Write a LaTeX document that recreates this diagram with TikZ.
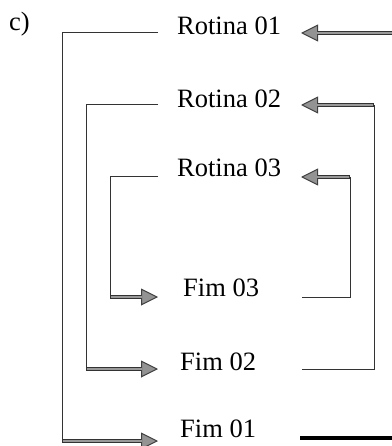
\documentclass[tikz,border=0pt]{standalone}
\usepackage{fontspec}
\setmainfont{Liberation Serif}
\usetikzlibrary{arrows.meta}
\begin{document}
\begin{tikzpicture}[x=1pt,y=-1pt,
  lbl/.style={anchor=base west,inner sep=0pt,font=\fontsize{26.5}{30}\selectfont},
  thinline/.style={draw=black!80,line width=1pt},
  arrowline/.style={draw=black!80,line width=3.4pt,
    -{Triangle[length=17pt,width=17pt,fill=gray!85,color=black!75,line width=1pt]},
    postaction={draw=gray!80,line width=1.3pt,-,shorten >=16pt,shorten <=1pt}},
  heavy/.style={draw=black,line width=3.5pt}]
\useasboundingbox (0,0) rectangle (391,446);
\node[lbl] (c) at (9,31) {c)};
\node[lbl] (r1) at (177,35) {Rotina 01};
\node[lbl] (r2) at (177,108) {Rotina 02};
\node[lbl] (r3) at (177,177) {Rotina 03};
\node[lbl] (f3) at (183,296) {Fim 03};
\node[lbl] (f2) at (180,370) {Fim 02};
\node[lbl] (f1) at (180,437) {Fim 01};
% left side coordinates
\coordinate (l1s) at (158,33);
\coordinate (l1c) at (62,441);
\coordinate (l1e) at (158,441);
\coordinate (l2s) at (158,105);
\coordinate (l2c) at (86,369);
\coordinate (l2e) at (158,369);
\coordinate (l3s) at (158,177);
\coordinate (l3c) at (110,297);
\coordinate (l3e) at (158,297);
% right side coordinates
\coordinate (a1s) at (394,33);
\coordinate (a1e) at (301,33);
\coordinate (a2s) at (302,369);
\coordinate (a2c) at (374,105);
\coordinate (a2e) at (301,105);
\coordinate (a3s) at (302,297);
\coordinate (a3c) at (350,177);
\coordinate (a3e) at (301,177);
\coordinate (h1s) at (300,438);
\coordinate (h1e) at (392,438);
% left connectors
\draw[thinline] (l1s) -| (l1c);
\draw[arrowline] (l1c) -- (l1e);
\draw[thinline] (l2s) -| (l2c);
\draw[arrowline] (l2c) -- (l2e);
\draw[thinline] (l3s) -| (l3c);
\draw[arrowline] (l3c) -- (l3e);
% right connectors
\draw[arrowline] (a1s) -- (a1e);
\draw[thinline] (a2s) -| (a2c);
\draw[arrowline] (a2c) -- (a2e);
\draw[thinline] (a3s) -| (a3c);
\draw[arrowline] (a3c) -- (a3e);
\draw[heavy] (h1s) -- (h1e);
\end{tikzpicture}
\end{document}
